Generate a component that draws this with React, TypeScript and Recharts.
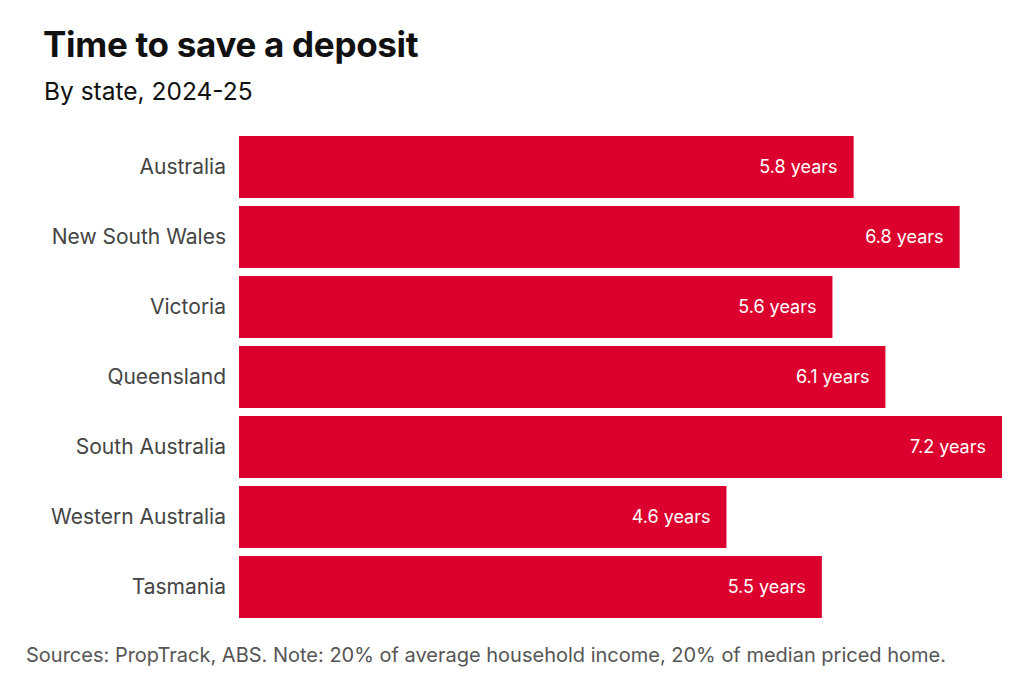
import React from 'react'
import { BarChart, Bar, XAxis, YAxis, LabelList } from 'recharts'

const states = [
  'Australia',
  'New South Wales',
  'Victoria',
  'Queensland',
  'South Australia',
  'Western Australia',
  'Tasmania',
]
const years = [5.8, 6.8, 5.6, 6.1, 7.2, 4.6, 5.5]

const FONT = 'Inter, "Noto Sans", sans-serif'
const RED = '#dc002e'

export default function App() {
  const data = states.map((state, i) => ({ state, years: years[i] }))

  return (
    <div
      style={{
        position: 'absolute',
        left: 0,
        top: 0,
        width: 1024,
        height: 674,
        background: '#fff',
        fontFamily: FONT,
        overflow: 'hidden',
      }}
    >
      <div
        style={{
          position: 'absolute',
          left: 43,
          top: 23,
          fontSize: 35,
          fontWeight: 700,
          color: '#111',
          letterSpacing: -0.3,
        }}
      >
        Time to save a deposit
      </div>
      <div
        style={{
          position: 'absolute',
          left: 44,
          top: 76,
          fontSize: 24.5,
          color: '#111',
        }}
      >
        By state, 2024-25
      </div>

      <div style={{ position: 'absolute', left: 0, top: 0 }}>
        <BarChart
          width={1024}
          height={674}
          data={data}
          layout="vertical"
          margin={{ top: 132, right: 22, bottom: 52, left: 0 }}
        >
          <XAxis type="number" domain={[0, 7.2]} hide />
          <YAxis
            type="category"
            dataKey="state"
            width={239}
            axisLine={false}
            tickLine={false}
            tickSize={0}
            tickMargin={13}
            tick={{ fill: '#444', fontSize: 21, fontFamily: FONT }}
          />
          <Bar dataKey="years" fill={RED} barSize={62} isAnimationActive={false}>
            <LabelList
              dataKey="years"
              position="insideRight"
              offset={16}
              formatter={(v: any) => `${v} years`}
              style={{ fill: '#fff', fontSize: 18, fontFamily: FONT }}
            />
          </Bar>
        </BarChart>
      </div>

      <div
        style={{
          position: 'absolute',
          left: 26,
          top: 643,
          fontSize: 20,
          color: '#555',
          whiteSpace: 'nowrap',
        }}
      >
        Sources: PropTrack, ABS. Note: 20% of average household income, 20% of median priced home.
      </div>
    </div>
  )
}
